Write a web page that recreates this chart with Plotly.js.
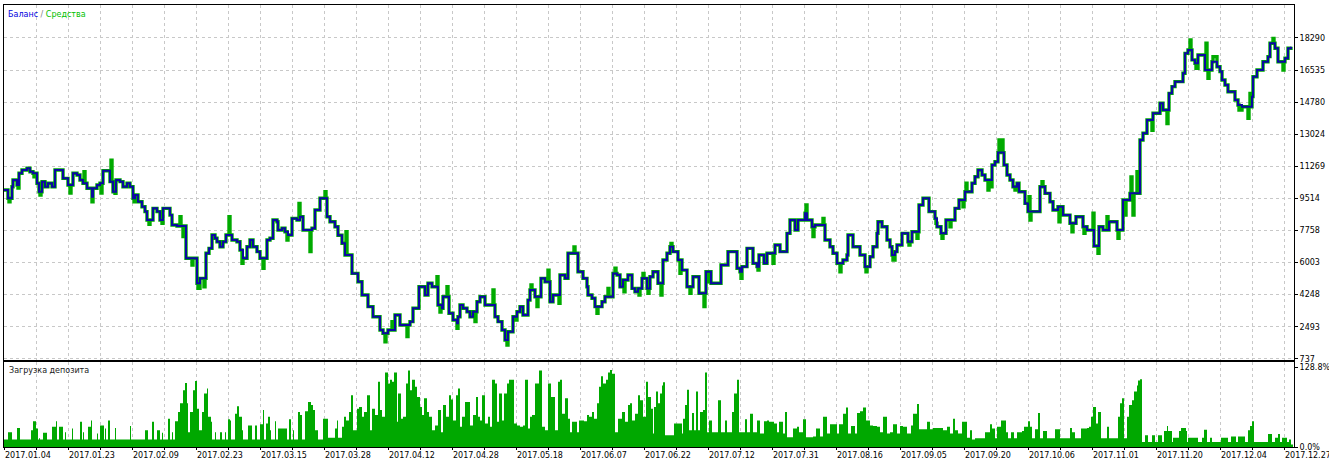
<!DOCTYPE html>
<html>
<head>
<meta charset="utf-8">
<script src="https://cdn.plot.ly/plotly-3.0.1.min.js"></script>
<style>
html,body{margin:0;padding:0;background:#fff;}
#chart{width:1329px;height:462px;}
</style>
</head>
<body>
<div id="chart"></div>
<script>
// ---- data (deal index, value) ----
const dateLabels = ["2017.01.04","2017.01.23","2017.02.09","2017.02.23","2017.03.15","2017.03.28","2017.04.12","2017.04.28","2017.05.18","2017.06.07","2017.06.22","2017.07.12","2017.07.31","2017.08.16","2017.09.05","2017.09.20","2017.10.06","2017.11.01","2017.11.20","2017.12.04","2017.12.27"];
const balanceTicks = [737,2493,4248,6003,7758,9514,11269,13024,14780,16535,18290];
const loadTicks = [0,128.8];
const loadTickText = ["0.0%","128.8%"];

const balancePoints = [[0,9970],[4,9520],[8,10150],[9,10520],[13,10250],[15,10890],[18,11070],[23,11160],[26,10970],[29,10890],[33,10340],[35,9880],[38,10430],[41,10150],[44,10340],[48,10150],[51,11070],[59,10610],[64,10250],[69,10890],[73,10790],[76,10520],[79,10340],[83,10070],[88,9610],[89,10070],[93,10250],[96,10340],[99,11030],[106,10430],[109,9880],[112,10520],[116,10430],[119,10150],[123,10340],[126,10150],[129,9520],[131,9700],[134,9330],[138,9060],[141,8790],[143,8330],[149,8970],[153,8790],[156,8330],[159,8970],[166,8600],[168,8060],[173,8000],[182,6240],[193,4870],[196,5140],[202,6510],[205,6780],[208,7510],[211,7330],[213,7140],[216,6870],[219,7140],[222,7510],[228,7240],[233,7140],[236,6690],[239,6240],[243,6870],[246,7240],[249,6870],[253,6600],[256,6240],[263,7240],[266,7330],[269,8330],[273,8240],[274,7780],[278,7880],[281,7690],[284,7510],[288,8420],[293,8330],[296,8510],[299,7780],[308,7880],[311,8880],[316,9520],[323,8510],[326,8240],[331,7960],[334,7500],[338,7060],[341,6420],[348,5410],[354,4950],[358,4230],[364,3590],[369,3040],[376,2310],[379,2130],[384,2310],[391,3130],[396,2590],[406,2770],[409,3500],[415,4680],[421,4230],[424,4870],[428,4680],[434,3680],[438,3500],[439,4130],[445,3230],[449,2860],[453,2680],[454,3040],[456,3680],[459,3500],[463,3310],[466,3040],[469,3310],[473,3860],[476,4130],[481,3680],[491,3040],[494,2770],[498,2310],[501,1760],[504,2220],[509,3040],[513,3310],[516,3590],[519,3130],[524,3950],[526,4500],[531,4130],[537,5140],[541,4950],[546,3860],[549,4230],[556,5320],[561,5140],[564,6510],[574,5500],[579,5140],[583,4680],[584,4230],[588,4050],[591,3590],[598,3860],[601,4130],[609,5410],[613,5320],[616,4680],[619,5050],[624,5320],[628,4590],[631,4410],[634,4590],[638,5140],[643,4590],[646,5230],[649,5500],[654,4870],[659,6140],[663,6510],[666,6870],[669,6600],[674,6140],[678,5590],[683,4680],[689,5230],[695,4320],[702,5500],[707,4870],[717,5870],[724,6600],[733,5690],[736,5500],[738,5780],[743,6780],[749,5960],[753,5780],[755,6420],[760,5960],[763,6510],[771,6960],[776,6600],[783,7600],[786,8330],[791,7780],[794,8330],[801,8700],[803,8330],[808,7960],[811,8060],[821,7240],[826,6870],[829,6510],[833,5960],[839,6140],[843,6420],[844,7510],[849,6870],[856,6420],[861,5780],[866,6320],[869,6870],[873,7600],[874,8240],[878,7960],[883,7240],[886,6870],[888,6420],[891,6600],[893,6960],[898,7600],[904,7140],[908,7690],[915,9150],[919,9520],[925,8790],[931,8420],[933,7960],[937,7600],[942,8330],[951,8970],[955,9430],[961,9880],[968,10340],[971,10700],[974,11070],[978,10790],[981,10520],[988,11340],[991,11520],[994,12020],[1000,11340],[1003,10790],[1006,10520],[1009,10150],[1013,10340],[1015,9880],[1021,9240],[1024,8790],[1036,10150],[1041,9790],[1046,9330],[1049,8880],[1054,9060],[1059,8600],[1066,8150],[1072,8510],[1079,7960],[1083,7780],[1090,6910],[1095,7960],[1099,7780],[1105,8240],[1113,7780],[1119,9430],[1126,9790],[1136,12710],[1139,13080],[1143,13800],[1149,14170],[1156,14720],[1159,14350],[1165,15260],[1168,15630],[1171,15900],[1179,16360],[1181,17450],[1184,17630],[1188,17090],[1191,16910],[1194,17360],[1201,16540],[1208,16990],[1213,16720],[1216,16450],[1218,15990],[1221,15720],[1224,15350],[1231,14900],[1234,14620],[1238,14530],[1248,15080],[1249,16170],[1253,16540],[1259,16990],[1264,17270],[1266,18000],[1271,17730],[1274,16990],[1281,17180],[1284,17730],[1287,17810]];

const equityPoints = [[0,9970],[4,9520],[5,9330],[6,9520],[8,10150],[9,10520],[13,10250],[14,10080],[15,10890],[18,11070],[23,11160],[26,10970],[29,10890],[30,10700],[31,10890],[33,10340],[35,9880],[36,9700],[37,9880],[38,10430],[41,10150],[44,10340],[48,10150],[51,11070],[59,10610],[64,10250],[66,9810],[67,10250],[69,10890],[73,10790],[76,10520],[79,10340],[80,10970],[81,10340],[83,10070],[88,9330],[89,10070],[93,10250],[96,10340],[97,9810],[98,10340],[99,11030],[106,10430],[107,11610],[108,10430],[109,9880],[111,9790],[112,10520],[116,10430],[119,10150],[123,10340],[126,10150],[129,9520],[130,9330],[131,9700],[134,9330],[138,9060],[141,8790],[143,8330],[145,8100],[146,8330],[149,8970],[153,8790],[156,8330],[158,8150],[159,8970],[166,8600],[168,8060],[173,8000],[176,8510],[177,8000],[179,7420],[180,8000],[182,6240],[188,5870],[189,6240],[193,4870],[194,4590],[196,5140],[200,4680],[201,5140],[202,6510],[205,6780],[208,7510],[211,7330],[213,7140],[216,6870],[219,7140],[222,7510],[225,8510],[226,7510],[228,7240],[233,7140],[236,6690],[238,5960],[239,6240],[243,6870],[246,7240],[249,6870],[253,6600],[256,6240],[259,5690],[260,6240],[263,7240],[266,7330],[269,8330],[273,8240],[274,7780],[278,7880],[281,7690],[283,7240],[284,7510],[288,8420],[293,8330],[295,9240],[296,8510],[299,7780],[306,6600],[307,7780],[308,7880],[311,8880],[316,9520],[321,9880],[322,9520],[323,8510],[326,8240],[331,7960],[334,7500],[338,7060],[341,6420],[342,7690],[343,6420],[348,5410],[354,4950],[358,4230],[364,3590],[369,3040],[376,2310],[379,2130],[381,1670],[382,2130],[384,2310],[388,2770],[389,2310],[391,3130],[396,2590],[403,1950],[404,2590],[406,2770],[409,3500],[415,4680],[421,4230],[424,4870],[428,4680],[433,5230],[434,3680],[436,3300],[437,3680],[438,3500],[439,4130],[443,4680],[444,4130],[445,3230],[449,2860],[453,2410],[454,3040],[456,3680],[459,3500],[463,3310],[466,3040],[469,3310],[471,2770],[472,3310],[473,3860],[476,4130],[481,3680],[489,4500],[490,3680],[491,3040],[494,2770],[498,2310],[501,1760],[503,1490],[504,2220],[509,3040],[512,2860],[513,3310],[516,3590],[519,3130],[524,3950],[526,4500],[527,4780],[528,4500],[531,4130],[533,3590],[534,4130],[537,5140],[541,4950],[544,5590],[545,4950],[546,3860],[549,4230],[555,3770],[556,5320],[561,5140],[564,6510],[570,6860],[571,6510],[574,5500],[579,5140],[583,4680],[584,4230],[588,4050],[591,3590],[593,3230],[594,3590],[598,3860],[601,4130],[604,4590],[605,4130],[609,5410],[611,5690],[612,5410],[613,5320],[616,4680],[619,5050],[620,4410],[621,5050],[624,5320],[628,4590],[631,4410],[634,4590],[635,4230],[636,4590],[638,5140],[639,5410],[640,5140],[643,4590],[644,4320],[645,4590],[646,5230],[649,5500],[654,4870],[657,4230],[658,4870],[659,6140],[663,6510],[666,6870],[667,7050],[668,6870],[669,6600],[674,6140],[676,5410],[677,6140],[678,5590],[683,4680],[686,4320],[687,4680],[689,5230],[695,4320],[700,3590],[701,4320],[702,5500],[705,4950],[706,5500],[707,4870],[717,5870],[724,6600],[733,5690],[736,5500],[737,5140],[738,5780],[743,6780],[749,5960],[753,5780],[754,5590],[755,6420],[760,5960],[763,6510],[769,5960],[770,6510],[771,6960],[776,6600],[783,7600],[786,8330],[791,7780],[794,8330],[801,8700],[802,9150],[803,8330],[808,7960],[809,7420],[810,7960],[811,8060],[819,8420],[820,8060],[821,7240],[826,6870],[829,6510],[833,5960],[836,5500],[837,5960],[839,6140],[843,6420],[844,7510],[849,6870],[856,6420],[861,5780],[862,5500],[863,5780],[866,6320],[869,6870],[873,7600],[874,8240],[878,7960],[883,7240],[886,6870],[888,6420],[889,6140],[891,6600],[893,6960],[898,7600],[904,7140],[905,6960],[906,7140],[908,7690],[913,7330],[914,7690],[915,9150],[919,9520],[925,8790],[931,8420],[932,8150],[933,7960],[937,7600],[938,7330],[939,7600],[942,8330],[946,7960],[947,8330],[951,8970],[955,9430],[959,9060],[960,9430],[961,9880],[962,10340],[963,9880],[968,10340],[971,10700],[974,11070],[978,10790],[981,10520],[984,9970],[985,10520],[987,10150],[988,11340],[991,11520],[994,12020],[995,12710],[996,12020],[998,12710],[999,12020],[1000,11340],[1003,10790],[1006,10520],[1009,10150],[1011,9970],[1012,10150],[1013,10340],[1015,9880],[1021,9240],[1024,8790],[1025,9610],[1026,8330],[1027,8790],[1036,10150],[1038,10430],[1039,10150],[1041,9790],[1046,9330],[1049,8880],[1054,9060],[1055,8240],[1056,9060],[1059,8600],[1066,8150],[1068,7690],[1069,8150],[1072,8510],[1079,7960],[1080,7600],[1081,7960],[1083,7780],[1089,8700],[1090,6910],[1094,6510],[1095,7960],[1099,7780],[1103,8510],[1104,7780],[1105,8240],[1113,7780],[1114,7330],[1115,7780],[1119,9430],[1121,8600],[1122,9430],[1126,9790],[1127,10690],[1128,9790],[1129,8600],[1130,9790],[1133,10970],[1134,9790],[1136,12710],[1139,13080],[1143,13800],[1148,13240],[1149,14170],[1156,14720],[1159,14350],[1163,13610],[1164,14350],[1165,15260],[1168,15630],[1171,15900],[1179,16360],[1181,17450],[1184,17630],[1186,18180],[1187,17630],[1188,17090],[1191,16910],[1192,16630],[1194,17360],[1201,16540],[1202,18000],[1203,16540],[1204,16080],[1205,16540],[1208,16990],[1209,17270],[1213,16720],[1216,16450],[1218,15990],[1221,15720],[1224,15350],[1231,14900],[1234,14620],[1235,14350],[1238,14530],[1244,13900],[1245,14530],[1246,15260],[1247,14530],[1248,15080],[1249,16170],[1253,16540],[1259,16990],[1264,17270],[1266,18000],[1269,18270],[1270,18000],[1271,17730],[1274,16990],[1279,16540],[1280,16990],[1281,17180],[1284,17730],[1287,17810]];

const loadPoints = [[0,12],[4,24],[8,12],[13,31],[16,12],[27,27],[29,42],[32,30],[34,12],[35,14],[36,12],[39,23],[43,12],[48,33],[52,42],[53,12],[55,33],[59,12],[61,24],[62,12],[68,30],[69,12],[76,41],[78,12],[79,24],[80,12],[84,33],[87,43],[88,12],[93,22],[94,12],[96,35],[100,12],[101,30],[102,12],[104,43],[106,12],[111,31],[112,12],[126,34],[127,12],[141,27],[144,12],[148,41],[150,12],[153,27],[156,12],[158,23],[159,12],[164,46],[166,12],[168,24],[169,12],[171,42],[174,57],[176,71],[179,92],[181,104],[183,71],[184,24],[186,57],[189,92],[191,107],[193,62],[195,27],[198,57],[200,87],[203,95],[204,49],[207,41],[208,12],[211,24],[212,12],[216,24],[218,12],[221,24],[222,12],[224,45],[226,43],[227,12],[231,54],[233,66],[235,49],[238,27],[239,12],[244,35],[248,12],[251,35],[253,12],[256,37],[259,60],[260,12],[262,38],[264,49],[266,27],[267,12],[271,42],[272,12],[274,30],[283,12],[285,45],[287,12],[289,27],[290,12],[294,57],[296,52],[298,12],[301,58],[304,73],[307,68],[309,60],[311,27],[314,12],[319,46],[321,46],[324,15],[331,30],[333,43],[334,15],[338,33],[340,49],[342,43],[345,57],[347,84],[349,27],[353,62],[355,65],[358,49],[360,57],[363,84],[366,27],[368,62],[371,52],[374,106],[376,60],[378,49],[381,121],[384,103],[386,109],[388,106],[390,121],[393,41],[394,87],[397,46],[399,49],[402,103],[404,124],[406,92],[408,109],[411,98],[413,81],[416,65],[418,52],[420,79],[423,57],[425,49],[428,27],[431,35],[434,60],[437,24],[439,68],[442,49],[445,84],[447,77],[449,43],[452,84],[454,95],[456,33],[458,49],[461,73],[464,73],[466,35],[469,52],[472,81],[474,49],[476,43],[478,84],[481,38],[484,49],[486,33],[488,109],[491,103],[493,41],[495,87],[498,43],[500,87],[503,103],[505,109],[508,109],[510,38],[513,35],[516,33],[519,35],[521,109],[524,30],[526,49],[528,52],[531,103],[535,124],[538,33],[541,27],[544,103],[547,81],[551,27],[554,106],[556,109],[558,54],[561,79],[564,46],[566,24],[568,41],[571,41],[573,24],[575,43],[578,43],[580,42],[583,52],[585,49],[588,57],[590,46],[593,71],[595,98],[597,115],[599,103],[602,109],[604,121],[606,125],[608,119],[611,24],[614,46],[616,46],[618,57],[621,41],[624,68],[626,71],[628,43],[631,54],[634,84],[636,76],[639,49],[642,106],[644,81],[647,62],[649,22],[650,65],[652,90],[654,71],[656,87],[658,100],[659,105],[661,19],[670,38],[673,38],[675,38],[678,22],[679,46],[681,68],[683,93],[685,27],[688,55],[690,27],[692,90],[694,27],[696,57],[699,60],[701,121],[703,24],[705,43],[708,24],[711,24],[714,76],[717,24],[721,43],[723,24],[728,57],[730,87],[733,109],[735,24],[741,45],[743,24],[746,54],[749,24],[753,43],[756,22],[760,42],[763,43],[765,41],[768,41],[770,38],[773,24],[775,41],[779,22],[781,57],[783,16],[789,30],[793,33],[795,24],[799,45],[802,16],[809,17],[812,30],[816,17],[819,49],[823,22],[826,37],[829,37],[833,22],[835,37],[839,54],[842,64],[844,22],[847,34],[851,22],[853,55],[856,58],[859,64],[862,43],[866,35],[869,34],[873,33],[876,24],[879,49],[883,22],[886,24],[889,37],[893,22],[896,34],[899,33],[903,22],[907,35],[909,54],[913,70],[915,29],[919,29],[923,41],[926,29],[929,31],[932,31],[936,31],[939,27],[943,33],[946,22],[949,46],[951,27],[954,22],[958,41],[960,41],[963,15],[966,27],[968,12],[971,14],[981,24],[986,37],[988,30],[991,14],[993,33],[997,43],[1000,43],[1002,24],[1004,14],[1007,24],[1010,14],[1013,24],[1015,24],[1018,26],[1020,33],[1024,42],[1026,33],[1028,14],[1031,29],[1034,55],[1036,14],[1039,26],[1043,14],[1051,29],[1054,29],[1056,14],[1066,31],[1068,24],[1071,14],[1077,30],[1079,30],[1083,31],[1085,33],[1087,49],[1089,65],[1092,38],[1094,57],[1097,14],[1103,33],[1105,14],[1114,49],[1116,71],[1118,79],[1120,14],[1123,49],[1125,68],[1128,76],[1130,90],[1133,100],[1134,108],[1136,110],[1138,8],[1141,19],[1144,8],[1148,19],[1151,8],[1154,19],[1156,19],[1158,8],[1160,26],[1163,34],[1164,26],[1168,8],[1169,15],[1173,15],[1175,26],[1177,31],[1180,31],[1182,26],[1183,8],[1184,15],[1191,15],[1194,8],[1198,15],[1200,28],[1203,8],[1206,15],[1208,8],[1217,15],[1220,15],[1224,8],[1227,17],[1230,17],[1232,8],[1234,17],[1238,17],[1241,8],[1244,27],[1246,34],[1248,42],[1250,8],[1264,21],[1266,21],[1268,8],[1271,15],[1274,21],[1276,8],[1278,15],[1282,15],[1283,8],[1285,12],[1287,4],[1289,4]];

// ---- build traces ----
const FONT = "DejaVu Sans, Verdana, sans-serif";
const gridStep = 32;
const gridVals = [];
const gridText = [];
for (let i = 0; i < dateLabels.length; i++) {
  gridVals.push(i * 2 * gridStep); gridText.push(dateLabels[i]);
  if (i < dateLabels.length - 1) { gridVals.push((i * 2 + 1) * gridStep); gridText.push(""); }
}

const equity = {
  x: equityPoints.map(p => p[0]), y: equityPoints.map(p => p[1]),
  xaxis: "x2", yaxis: "y2", type: "scatter", mode: "lines",
  line: {color: "#00AA00", width: 3.4, shape: "hv"}, hoverinfo: "skip"
};
const balance = {
  x: balancePoints.map(p => p[0]), y: balancePoints.map(p => p[1]),
  xaxis: "x2", yaxis: "y2", type: "scatter", mode: "lines",
  line: {color: "#0A0AA0", width: 2, shape: "hv"}, hoverinfo: "skip"
};
const load = {
  x: loadPoints.map(p => p[0]), y: loadPoints.map(p => p[1]),
  xaxis: "x", yaxis: "y", type: "scatter", mode: "lines",
  line: {color: "#00A800", width: 0, shape: "hv"},
  fill: "tozeroy", fillcolor: "#00A800", hoverinfo: "skip"
};

const gridCommon = {
  showgrid: true, gridcolor: "#C8C8C8", gridwidth: 1, griddash: "3px,3px",
  zeroline: false, showline: true, mirror: true, linecolor: "#000", linewidth: 1
};

const layout = {
  width: 1329, height: 462,
  margin: {l: 4, r: 35, t: 5, b: 15, pad: 0},
  paper_bgcolor: "#fff", plot_bgcolor: "#fff",
  showlegend: false,
  font: {family: FONT, size: 8, color: "#000"},
  xaxis: Object.assign({}, gridCommon, {
    domain: [0, 1], anchor: "y", range: [0, 1290],
    tickmode: "array", tickvals: gridVals, ticktext: gridText,
    ticks: "outside", ticklen: 2, tickcolor: "#000",
    ticklabelposition: "outside right", ticklabeloverflow: "allow",
    tickfont: {family: FONT, size: 8, color: "#000"}
  }),
  yaxis: Object.assign({}, gridCommon, {
    domain: [0, 0.1923], anchor: "x", range: [0, 138], side: "right",
    showgrid: false, tickmode: "array", tickvals: loadTicks, ticktext: loadTickText,
    ticks: "outside", ticklen: 3, tickcolor: "#000",
    tickfont: {family: FONT, size: 8, color: "#000"}
  }),
  xaxis2: Object.assign({}, gridCommon, {
    domain: [0, 1], anchor: "y2", range: [0, 1290], matches: "x",
    tickmode: "array", tickvals: gridVals, showticklabels: false, ticks: ""
  }),
  yaxis2: Object.assign({}, gridCommon, {
    domain: [0.1968, 1], anchor: "x2", range: [671, 20095], side: "right",
    tickmode: "array", tickvals: balanceTicks, ticktext: balanceTicks.map(String),
    ticks: "outside", ticklen: 3, tickcolor: "#000",
    tickfont: {family: FONT, size: 8, color: "#000"}
  }),
  annotations: [
    {xref: "paper", yref: "paper", x: 0.0016, y: 0.9796, xanchor: "left", yanchor: "middle",
     showarrow: false, font: {family: FONT, size: 8},
     text: '<span style="color:#0000E0">Баланс</span> <span style="color:#808080">/</span> <span style="color:#00C000">Средства</span>'},
    {xref: "paper", yref: "paper", x: 0.0023, y: 0.1742, xanchor: "left", yanchor: "middle",
     showarrow: false, font: {family: FONT, size: 8, color: "#202020"},
     text: "Загрузка депозита"}
  ]
};

Plotly.newPlot("chart", [load, equity, balance], layout, {staticPlot: true, displayModeBar: false});
</script>
</body>
</html>
